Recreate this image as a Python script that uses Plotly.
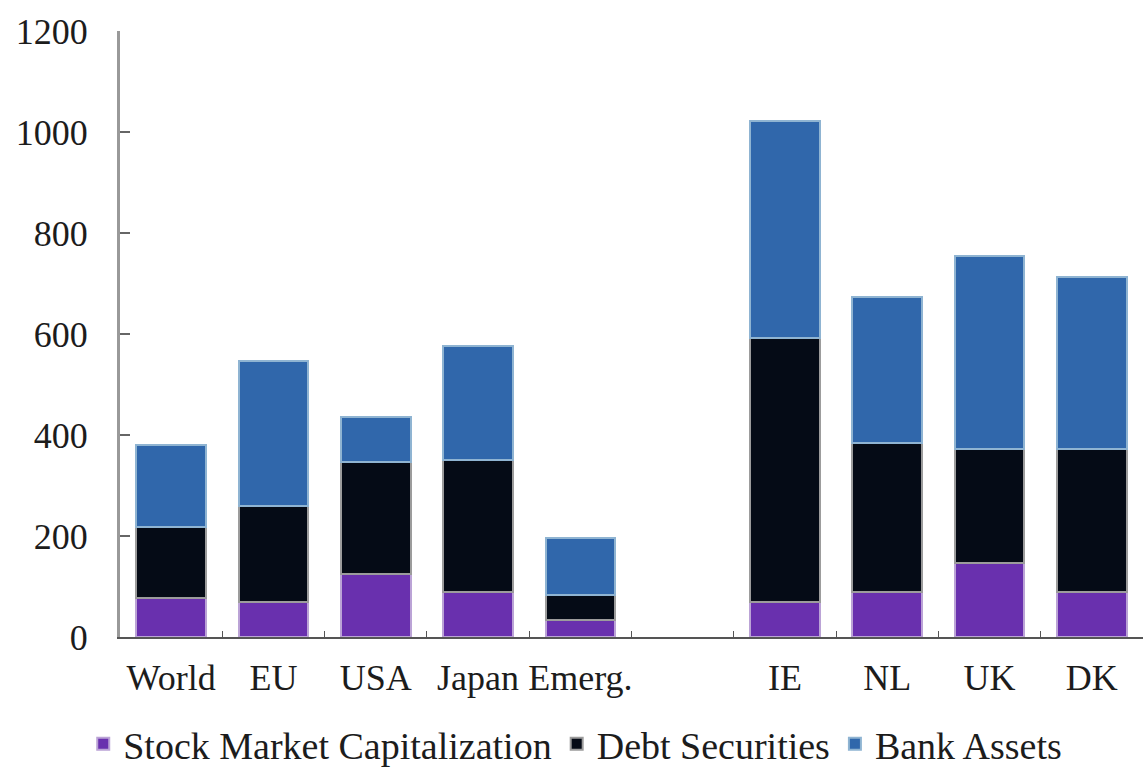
import plotly.graph_objects as go

# Categories (a blank slot separates the aggregates from the individual countries)
categories = ["World", "EU", "USA", "Japan", "Emerg.", " ", "IE", "NL", "UK", "DK"]

# Values, % of GDP
stock_market_cap = [77, 70, 125, 89, 34, None, 69, 90, 146, 90]
debt_securities = [141, 190, 221, 261, 49, None, 523, 294, 226, 282]
bank_assets = [162, 287, 89, 227, 114, None, 430, 289, 382, 341]

y_ticks = [0, 200, 400, 600, 800, 1000, 1200]

font_family = "Liberation Serif, Times New Roman, serif"
text_color = "#1c1c1c"

fig = go.Figure()
fig.add_trace(go.Bar(
    x=categories, y=stock_market_cap, name="Stock Market Capitalization",
    marker=dict(color="#6930ae", line=dict(color="#bba3d6", width=2)),
))
fig.add_trace(go.Bar(
    x=categories, y=debt_securities, name="Debt Securities",
    marker=dict(color="#050b16", line=dict(color="#9c9c9c", width=2)),
))
fig.add_trace(go.Bar(
    x=categories, y=bank_assets, name="Bank Assets",
    marker=dict(color="#3067ab", line=dict(color="#8fb4d2", width=2)),
))

fig.update_layout(
    width=1143, height=767,
    margin=dict(l=120, r=0, t=31, b=130, autoexpand=False),
    barmode="stack",
    bargap=0.32,
    plot_bgcolor="white",
    paper_bgcolor="white",
    font=dict(family=font_family, size=36, color=text_color),
    showlegend=True,
    legend=dict(
        orientation="h",
        x=0.445, xanchor="center",
        yref="container", y=0.03, yanchor="middle",
        traceorder="normal",
        font=dict(family=font_family, size=38, color=text_color),
        itemwidth=30,
    ),
    xaxis=dict(
        type="category",
        categoryorder="array",
        categoryarray=categories,
        range=[-0.5, 9.5],
        showline=True, linecolor="#555555", linewidth=2,
        ticks="inside", tickson="boundaries", ticklen=6, tickcolor="#555555",
        showgrid=False, zeroline=False,
        tickangle=0,
        automargin=False,
        ticklabelstandoff=8,
        tickfont=dict(family=font_family, size=36, color=text_color),
    ),
    yaxis=dict(
        range=[0, 1200],
        tickvals=y_ticks,
        showline=True, linecolor="#999999", linewidth=3,
        ticks="inside", ticklen=10, tickcolor="#666666", tickwidth=2,
        showgrid=False, zeroline=False,
        automargin=False,
        ticklabelstandoff=22,
        tickfont=dict(family=font_family, size=36, color=text_color),
    ),
)

fig.write_html("out.html")
